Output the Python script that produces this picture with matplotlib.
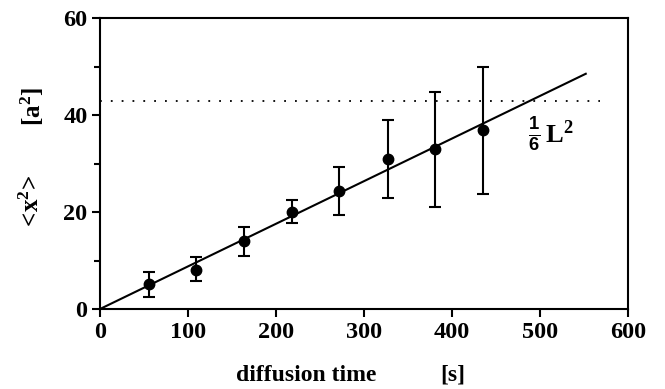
import matplotlib
matplotlib.use("Agg")
import matplotlib.pyplot as plt
import numpy as np

# Data
times = [56, 109, 164, 218, 272, 327, 381, 435]
msd = [5.1, 8.0, 14.0, 20.1, 24.4, 30.9, 32.9, 36.9]
err_upper = [7.6, 10.8, 17.0, 22.5, 29.2, 39.0, 44.7, 49.9]
err_lower = [2.5, 5.7, 11.0, 17.8, 19.3, 22.9, 21.1, 23.7]
fit_t = [0, 552]
fit_v = [0, 48.5]
limit_value = 42.9
limit_t = [0, 568]
xticks = [0, 100, 200, 300, 400, 500, 600]
yticks = [0, 20, 40, 60]
yminor = [10, 30, 50]

plt.rcParams['font.family'] = ['Liberation Serif', 'DejaVu Serif']
plt.rcParams['font.weight'] = 'bold'
plt.rcParams['mathtext.fontset'] = 'custom'
plt.rcParams['mathtext.rm'] = 'Liberation Serif:bold'
plt.rcParams['mathtext.bf'] = 'Liberation Serif:bold'
plt.rcParams['mathtext.it'] = 'Liberation Serif:bold'
plt.rcParams['mathtext.sf'] = 'Liberation Sans:bold'

fig = plt.figure(figsize=(6.65, 3.89), dpi=100)
ax = fig.add_axes([100/665, 80/389, 528/665, 291/389])

t = np.array(times)
v = np.array(msd)
yerr = [v - np.array(err_lower), np.array(err_upper) - v]
ax.errorbar(t, v, yerr=yerr, fmt='o', color='black', ms=7.5, elinewidth=1.5,
            capsize=4, capthick=1.5, zorder=3)
ax.plot(fit_t, fit_v, color='black', lw=1.5)
ax.plot(limit_t, [limit_value, limit_value], color='black', lw=1.3,
        linestyle=(0, (1, 5)))

ax.set_xlim(0, 600)
ax.set_ylim(0, 60)
ax.set_xticks(xticks)
ax.set_yticks(yticks)
ax.set_yticks(yminor, minor=True)
ax.tick_params(axis='both', which='major', direction='out', length=6, width=1.5,
               labelsize=17.5, pad=3)
ax.tick_params(axis='y', which='minor', direction='out', length=4, width=1.5)
for lab in ax.get_xticklabels() + ax.get_yticklabels():
    lab.set_fontweight('bold')
for s in ax.spines.values():
    s.set_linewidth(1.5)

ax.text(486, 35.8, r'$\frac{\mathsf{1}}{\mathsf{6}}\,\mathrm{L}^2$', fontsize=19,
        ha='left', va='center')

ax.text(-0.129, 0.364, r'$\mathrm{<\!x^2\!>}$', transform=ax.transAxes, rotation=90,
        ha='center', va='center', fontsize=18)
ax.text(-0.129, 0.694, r'$\mathrm{[a^2]}$', transform=ax.transAxes, rotation=90,
        ha='center', va='center', fontsize=18)
ax.text(0.39, -0.227, 'diffusion time', transform=ax.transAxes,
        ha='center', va='center', fontsize=17, fontweight='bold')
ax.text(0.669, -0.227, '[s]', transform=ax.transAxes,
        ha='center', va='center', fontsize=17, fontweight='bold')

fig.savefig('out.png', dpi=100)
